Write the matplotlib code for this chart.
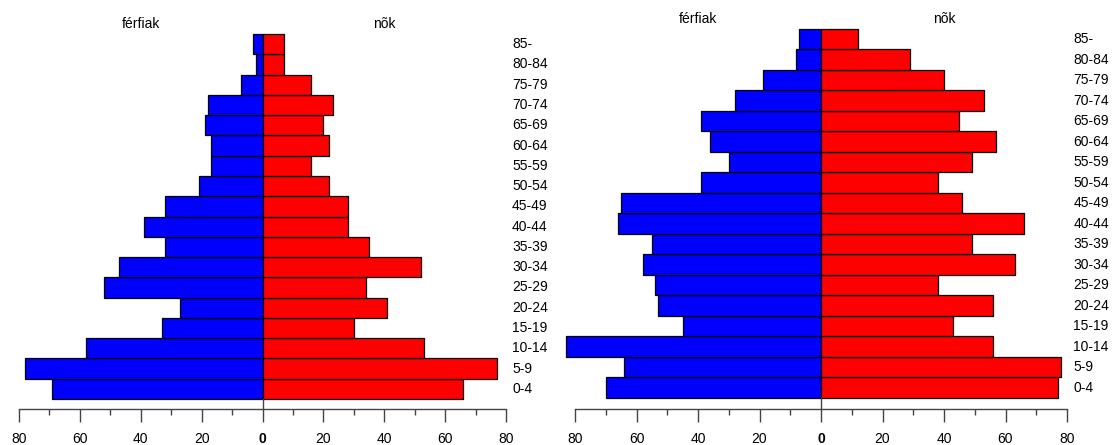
import matplotlib
matplotlib.use("Agg")
import matplotlib.pyplot as plt
from matplotlib.ticker import MultipleLocator, FixedLocator

plt.rcParams['font.family'] = ['Liberation Sans', 'DejaVu Sans']

# korcsoportok (alulról felfelé)
korcsoportok = ['0-4', '5-9', '10-14', '15-19', '20-24', '25-29', '30-34', '35-39',
                '40-44', '45-49', '50-54', '55-59', '60-64', '65-69', '70-74',
                '75-79', '80-84', '85-']

# bal oldali piramis
ferfiak_1 = [69, 78, 58, 33, 27, 52, 47, 32, 39, 32, 21, 17, 17, 19, 18, 7, 2, 3]
nok_1 = [66, 77, 53, 30, 41, 34, 52, 35, 28, 28, 22, 16, 22, 20, 23, 16, 7, 7]

# jobb oldali piramis
ferfiak_2 = [70, 64, 83, 45, 53, 54, 58, 55, 66, 65, 39, 30, 36, 39, 28, 19, 8, 7]
nok_2 = [77, 78, 56, 43, 56, 38, 63, 49, 66, 46, 38, 49, 57, 45, 53, 40, 29, 12]

fig = plt.figure(figsize=(11.14, 4.45), dpi=100)

# [left, bottom, width, height], ylim alsó értéke, adatok
elrendezes = [
    ([19 / 1114, 36 / 445, 487 / 1114, 375 / 445], -0.993, ferfiak_1, nok_1),
    ([575 / 1114, 36 / 445, 492 / 1114, 380 / 445], -1.037, ferfiak_2, nok_2),
]

for pos, ymin, ferfi, no in elrendezes:
    ax = fig.add_axes(pos)
    y = list(range(len(korcsoportok)))
    kek = ax.barh(y, [-v for v in ferfi], height=1.0, color='#0000FF',
                  edgecolor='black', linewidth=0.9)
    piros = ax.barh(y, no, height=1.0, color='#FF0000',
                    edgecolor='black', linewidth=0.9)
    for b in list(kek) + list(piros):
        b.set_clip_on(False)

    ax.set_xlim(-80, 80)
    ax.set_ylim(ymin, len(korcsoportok) - 0.5)

    for s in ['left', 'right', 'top']:
        ax.spines[s].set_visible(False)
    ax.spines['bottom'].set_color('#444444')
    ax.spines['bottom'].set_linewidth(1.0)

    ax.set_yticks([])
    ax.xaxis.set_major_locator(FixedLocator([-80, -60, -40, -20, 0, 20, 40, 60, 80]))
    ax.xaxis.set_minor_locator(MultipleLocator(10))
    ax.set_xticklabels(['80', '60', '40', '20', '0', '20', '40', '60', '80'])
    ax.tick_params(axis='x', which='major', length=9.5, width=1.0,
                   color='#444444', pad=7, labelsize=10)
    ax.tick_params(axis='x', which='minor', length=4.5, width=1.0,
                   color='#444444')
    for lbl in ax.get_xticklabels():
        if lbl.get_text() == '0':
            lbl.set_fontweight('bold')

    # nulla vonal a sávok alatt
    ax.plot([0, 0], [-0.5, ymin], color='#444444', linewidth=1.0, clip_on=False)

    for i, k in enumerate(korcsoportok):
        ax.text(82, i, k, ha='left', va='center', fontsize=10, clip_on=False)

    ax.annotate('férfiak', xy=(-40, len(korcsoportok) - 0.5), xytext=(0, 2),
                textcoords='offset points', ha='center', va='bottom', fontsize=10,
                annotation_clip=False)
    ax.annotate('nõk', xy=(40, len(korcsoportok) - 0.5), xytext=(0, 2),
                textcoords='offset points', ha='center', va='bottom', fontsize=10,
                annotation_clip=False)

fig.savefig('out.png', dpi=100)
